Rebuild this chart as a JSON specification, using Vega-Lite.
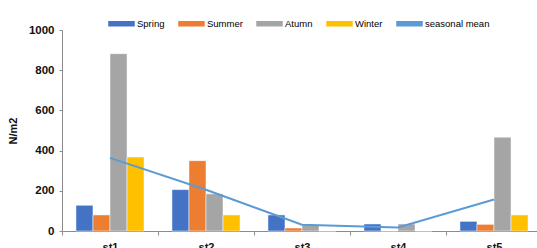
{
  "$schema": "https://vega.github.io/schema/vega-lite/v6.json",
  "autosize": "none",
  "padding": {"left": 62, "top": 30, "right": 0, "bottom": 17},
  "width": 480,
  "height": 201,
  "background": "white",
  "config": {
    "view": {"stroke": null},
    "font": "Liberation Sans",
    "axis": {"labelFont": "Liberation Sans", "titleFont": "Liberation Sans", "domainColor": "#8c8c8c", "tickColor": "#8c8c8c", "labelColor": "#111111", "titleColor": "#111111", "grid": false}
  },
  "datasets": {
    "bars": [
      {"station": "st1", "season": "Spring", "value": 128},
      {"station": "st1", "season": "Summer", "value": 80},
      {"station": "st1", "season": "Atumn", "value": 882},
      {"station": "st1", "season": "Winter", "value": 368},
      {"station": "st2", "season": "Spring", "value": 206},
      {"station": "st2", "season": "Summer", "value": 350},
      {"station": "st2", "season": "Atumn", "value": 185},
      {"station": "st2", "season": "Winter", "value": 80},
      {"station": "st3", "season": "Spring", "value": 80},
      {"station": "st3", "season": "Summer", "value": 15},
      {"station": "st3", "season": "Atumn", "value": 30},
      {"station": "st3", "season": "Winter", "value": 0},
      {"station": "st4", "season": "Spring", "value": 35},
      {"station": "st4", "season": "Summer", "value": 0},
      {"station": "st4", "season": "Atumn", "value": 35},
      {"station": "st4", "season": "Winter", "value": 0},
      {"station": "st5", "season": "Spring", "value": 48},
      {"station": "st5", "season": "Summer", "value": 33},
      {"station": "st5", "season": "Atumn", "value": 467},
      {"station": "st5", "season": "Winter", "value": 80}
    ],
    "mean": [
      {"station": "st1", "series": "seasonal mean", "value": 364},
      {"station": "st2", "series": "seasonal mean", "value": 205},
      {"station": "st3", "series": "seasonal mean", "value": 31},
      {"station": "st4", "series": "seasonal mean", "value": 18},
      {"station": "st5", "series": "seasonal mean", "value": 157}
    ]
  },
  "encoding": {
    "x": {
      "field": "station", "type": "nominal", "sort": ["st1", "st2", "st3", "st4", "st5"],
      "scale": {"paddingInner": 0, "paddingOuter": 0},
      "axis": {"title": null, "labelAngle": 0, "tickBand": "extent", "tickSize": 4, "labelPadding": 6, "labelFontSize": 11, "labelFontWeight": "bold"}
    },
    "y": {
      "field": "value", "type": "quantitative",
      "scale": {"domain": [0, 1000], "nice": false},
      "axis": {"title": "N/m2", "format": "d", "values": [0, 200, 400, 600, 800, 1000], "tickSize": 3, "labelPadding": 5, "labelFontSize": 11.5, "labelFontWeight": "bold", "titleFontSize": 11, "titleFontWeight": "bold", "titlePadding": 10}
    }
  },
  "layer": [
    {
      "data": {"name": "bars"},
      "mark": {"type": "bar", "stroke": "white", "strokeWidth": 0.5},
      "encoding": {
        "xOffset": {"field": "season", "type": "nominal", "sort": ["Spring", "Summer", "Atumn", "Winter"], "scale": {"paddingInner": 0, "paddingOuter": 0.82}},
        "color": {
          "field": "season", "type": "nominal",
          "scale": {"domain": ["Spring", "Summer", "Atumn", "Winter", "seasonal mean"], "range": ["#4472C4", "#ED7D31", "#A5A5A5", "#FFC000", "#5B9BD5"]},
          "legend": {
            "orient": "none", "legendX": 46, "legendY": -20, "direction": "horizontal", "title": null,
            "labelFontSize": 9.5, "labelFont": "Liberation Sans", "labelColor": "#000000", "columnPadding": 11, "labelOffset": 2,
            "symbolSize": 625,
            "symbolType": "M-1,-0.16H1V0.16H-1Z",
            "encode": {
              "symbols": {
                "update": {
                  "shape": {"signal": "datum.value === 'seasonal mean' ? 'M-1,0H1' : 'M-1,-0.16H1V0.16H-1Z'"},
                  "fill": {"signal": "datum.value === 'seasonal mean' ? 'transparent' : scale('color', datum.value)"},
                  "stroke": {"signal": "scale('color', datum.value)"},
                  "strokeWidth": {"signal": "datum.value === 'seasonal mean' ? 2 : 0"}
                }
              }
            }
          }
        }
      }
    },
    {
      "data": {"name": "mean"},
      "mark": {"type": "line", "strokeWidth": 2},
      "encoding": {
        "color": {"field": "series", "type": "nominal"}
      }
    }
  ]
}
